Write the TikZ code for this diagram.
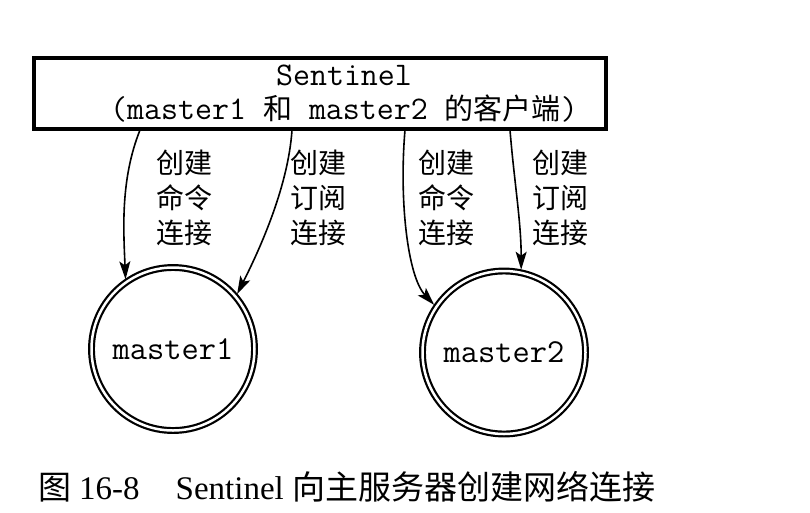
\documentclass[tikz,border=0pt]{standalone}
\usepackage{fontspec}
\setmainfont{Liberation Serif}
\newfontfamily\cjk{Noto Sans CJK SC}
\usetikzlibrary{arrows.meta}
\begin{document}
\begin{tikzpicture}[x=1pt,y=-1pt,
  sbox/.style={draw, line width=3.2pt, minimum width=572pt, minimum height=71pt, inner sep=0pt},
  mono/.style={font=\ttfamily\fontsize{33}{34}\selectfont, align=center, inner sep=0pt},
  mnode/.style={circle, draw, double, line width=2.2pt, double distance=2.5pt, minimum size=163pt, inner sep=0pt, font=\ttfamily\fontsize{33.5}{34}\selectfont},
  lbl/.style={font=\cjk\fontsize{28}{35}\selectfont, align=center, inner sep=0pt},
  arr/.style={line width=1.6pt, -{Stealth[length=18pt,width=11pt,inset=4pt]}, shorten >=2pt},
  captxt/.style={font=\fontsize{33}{40}\selectfont, inner sep=0pt, anchor=base west}
]
\useasboundingbox (0,0) rectangle (810,512);

\node[sbox] (box) at (320,93.5) {};
\node[mono] (sent) at (344,94) {Sentinel\\(master1 {\cjk\fontsize{29}{33}\selectfont 和} master2 {\cjk\fontsize{29}{33}\selectfont 的客户端})};

\node[mnode] (m1) at (173,349) {master1};
\node[mnode] (m2) at (504,352.5) {master2};

\coordinate (s1) at (140,130);
\coordinate (s2) at (292,130);
\coordinate (s3) at (405,130);
\coordinate (s4) at (510,130);

\draw[arr] (s1) .. controls +(-20,50) and +(-2,-50) .. (m1.125);
\draw[arr] (s2) .. controls +(-4,60) and +(20,-40) .. (m1.40);
\draw[arr] (s3) .. controls +(-6,70) and +(-28,-30) .. (m2.146);
\draw[arr] (s4) .. controls +(4,50) and +(0,-50) .. (m2.78);

\node[lbl] (l1) at (184,198) {创建\\命令\\连接};
\node[lbl] (l2) at (318,198) {创建\\订阅\\连接};
\node[lbl] (l3) at (446,198) {创建\\命令\\连接};
\node[lbl] (l4) at (560,198) {创建\\订阅\\连接};

\node[captxt] (caption) at (38,499) {{\cjk 图}\hspace{8pt}16-8\hspace{36pt}Sentinel {\cjk 向主服务器创建网络连接}};
\end{tikzpicture}
\end{document}
